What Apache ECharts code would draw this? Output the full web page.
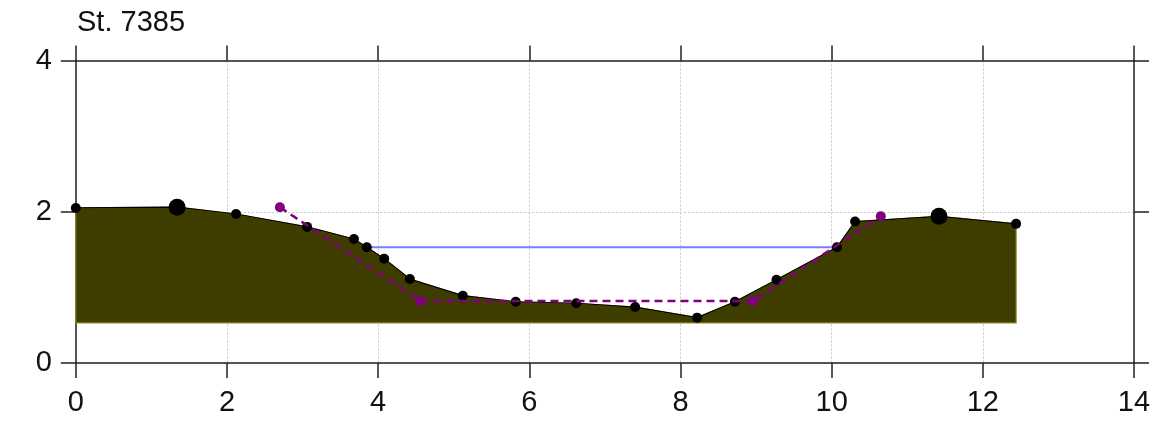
<!DOCTYPE html>
<html>
<head>
<meta charset="utf-8">
<script src="https://cdn.jsdelivr.net/npm/echarts@6/dist/echarts.min.js"></script>
<style>
html,body{margin:0;padding:0;background:#fff;}
#chart{width:1170px;height:422px;}
</style>
</head>
<body>
<div id="chart"></div>
<script>
// ---- data ----
var titleText = 'St. 7385';
var xTicks = [0, 2, 4, 6, 8, 10, 12, 14];
var yTicks = [0, 2, 4];
var profileX = [0, 1.34, 2.12, 3.06, 3.68, 3.85, 4.08, 4.42, 5.12, 5.82, 6.62, 7.40, 8.22, 8.72, 9.27, 10.07, 10.31, 11.42, 12.44];
var profileY = [2.05, 2.06, 1.97, 1.80, 1.64, 1.53, 1.38, 1.11, 0.89, 0.81, 0.79, 0.74, 0.60, 0.81, 1.10, 1.53, 1.87, 1.94, 1.84];
var bedBase = 0.53;
var markerX = [1.34, 11.42];
var markerY = [2.06, 1.94];
var designX = [2.70, 4.56, 8.96, 10.65];
var designY = [2.06, 0.82, 0.82, 1.94];
var waterX = [3.85, 10.07];
var waterY = [1.53, 1.53];

function pairs(xs, ys){ return xs.map(function(x,i){ return [x, ys[i]]; }); }

var chart = echarts.init(document.getElementById('chart'), null, {renderer:'canvas'});
var FONT = 'Liberation Sans';
var axisColor = '#222';

function baseX(pos, showLabel, split){
  return {
    type:'value', position:pos, min:xTicks[0], max:xTicks[xTicks.length-1], interval:2,
    axisLine:{show:true, onZero:false, lineStyle:{color:axisColor, width:1.5}},
    axisTick:{show:true, inside:false, length:15, lineStyle:{color:axisColor, width:1.5}},
    axisLabel:{show:showLabel, margin:25, fontSize:29, color:'#111', fontFamily:FONT},
    splitLine:{show:split, lineStyle:{color:'#c8c8c8', type:[2,2], width:1}}
  };
}
function baseY(pos, showLabel, split){
  return {
    type:'value', position:pos, min:yTicks[0], max:yTicks[yTicks.length-1], interval:2,
    axisLine:{show:true, onZero:false, lineStyle:{color:axisColor, width:1.5}},
    axisTick:{show:true, inside:false, length:15, lineStyle:{color:axisColor, width:1.5}},
    axisLabel:{show:showLabel, margin:24, fontSize:29, color:'#111', fontFamily:FONT},
    splitLine:{show:split, lineStyle:{color:'#c8c8c8', type:[2,2], width:1}}
  };
}

var profileData = pairs(profileX, profileY);

var option = {
  animation:false,
  backgroundColor:'#fff',
  title:{text:titleText, left:72, top:3, textStyle:{fontFamily:FONT, fontSize:29, fontWeight:'normal', color:'#111'}},
  grid:{left:75.8, right:36, top:60.5, bottom:59, containLabel:false},
  xAxis:[baseX('bottom', true, true), baseX('top', false, false)],
  yAxis:[baseY('left', true, true), baseY('right', false, false)],
  series:[
    {
      type:'custom',
      xAxisIndex:0, yAxisIndex:0,
      data:profileData,
      z:1,
      renderItem:function(params, api){
        if(params.dataIndex !== 0) return null;
        var pts = profileData.map(function(p){ return api.coord(p); });
        pts.push(api.coord([profileX[profileX.length-1], bedBase]));
        pts.push(api.coord([profileX[0], bedBase]));
        return {
          type:'polygon',
          shape:{points:pts},
          style:{fill:'#3f3c00', stroke:'#8a8412', lineWidth:1.2}
        };
      }
    },
    {
      type:'line', data:pairs(waterX, waterY), z:2,
      symbol:'none', lineStyle:{color:'#7b7bff', width:2}
    },
    {
      type:'line', data:profileData, z:3,
      symbol:'circle', symbolSize:10, showAllSymbol:true,
      itemStyle:{color:'#000'}, lineStyle:{color:'#000', width:1.2}
    },
    {
      type:'scatter', data:pairs(markerX, markerY), z:4,
      symbol:'circle', symbolSize:17, itemStyle:{color:'#000', opacity:1}
    },
    {
      type:'line', data:pairs(designX, designY), z:5,
      symbol:'circle', symbolSize:10, showAllSymbol:true,
      itemStyle:{color:'#800080'}, lineStyle:{color:'#800080', width:2.5, type:[8,5]}
    }
  ]
};
chart.setOption(option);
</script>
</body>
</html>
